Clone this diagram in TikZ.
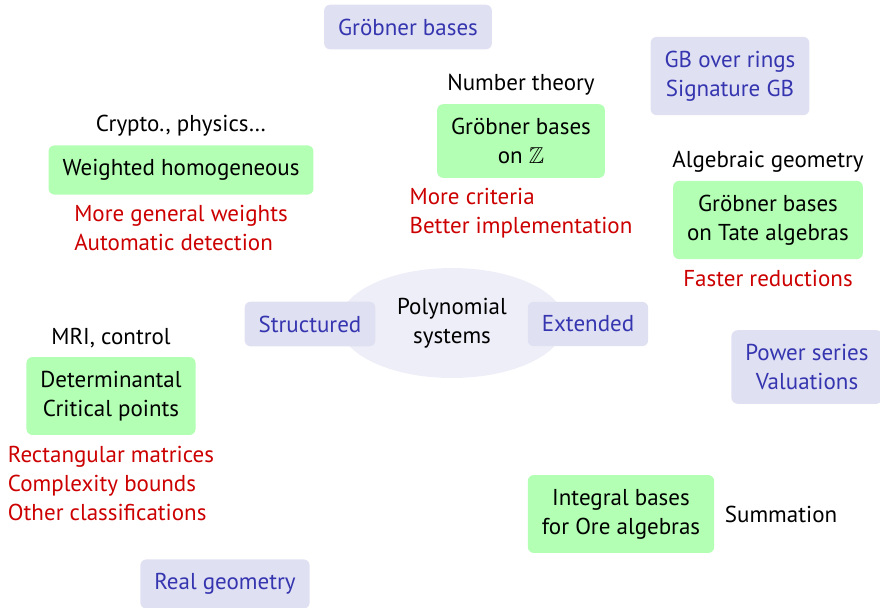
\documentclass[tikz,border=0pt]{standalone}
\usepackage{amssymb}
\usepackage{fontspec}
\setmainfont{PT Sans}
\usetikzlibrary{positioning,shapes.geometric}
\definecolor{TopicBlue}{HTML}{3535B0}
\definecolor{TopicFill}{HTML}{E0E0F3}
\definecolor{WorkFill}{HTML}{B3FFB3}
\definecolor{TodoRed}{HTML}{CC0000}
\definecolor{CoreFill}{HTML}{EEEEF8}
\tikzset{
  topic/.style={fill=TopicFill,text=TopicBlue,rounded corners=3pt,
    align=center,inner xsep=7pt,inner ysep=7pt},
  work/.style={fill=WorkFill,rounded corners=3pt,
    align=center,inner xsep=7pt,inner ysep=7pt},
  field/.style={align=center,inner sep=2pt},
  todo/.style={text=TodoRed,align=left,inner sep=2pt}
}
\begin{document}
\begin{tikzpicture}[x=0.5pt,y=-0.5pt,node distance=2pt,font=\fontsize{11.5}{14.5}\selectfont]
    \useasboundingbox (0,0) rectangle (880,607);
    % centre
    \node[ellipse,fill=CoreFill,minimum width=113pt,minimum height=55pt,align=center] (core) at (452,323) {Polynomial\\systems};
    \node[topic] (struct) at (310,324) {Structured};
    \node[topic] (ext) at (588,324) {Extended};
    % topics
    \node[topic] (gb) at (408,27) {Gröbner bases};
    \node[topic] (gbrings) at (730,76) {GB over rings\\Signature GB};
    \node[topic] (series) at (807,367) {Power series\\Valuations};
    \node[topic] (realgeo) at (225,584) {Real geometry};
    % works
    \node[work] (weighted) at (181,170) {Weighted homogeneous};
    \node[field,above=of weighted] (crypto) {Crypto., physics\ldots};
    \node[todo,below=3pt of weighted] (weightedtodo) {More general weights\\Automatic detection};
    \node[work] (gbz) at (521,141) {Gröbner bases\\on $\mathbb{Z}$};
    \node[field,above=of gbz] (numth) {Number theory};
    \node[todo,below=3pt of gbz] (gbztodo) {More criteria\\Better implementation};
    \node[work] (tate) at (768,220) {Gröbner bases\\on Tate algebras};
    \node[field,above=of tate] (alggeo) {Algebraic geometry};
    \node[todo,below=3pt of tate] (tatetodo) {Faster reductions};
    \node[work] (detcrit) at (111,396) {Determinantal\\Critical points};
    \node[field,above=of detcrit] (mri) {MRI, control};
    \node[todo,below=3pt of detcrit] (detcrittodo) {Rectangular matrices\\Complexity bounds\\Other classifications};
    \node[work] (ore) at (621,514) {Integral bases\\for Ore algebras};
    \node[field,right=3pt of ore] (summ) {Summation};
\end{tikzpicture}
\end{document}
